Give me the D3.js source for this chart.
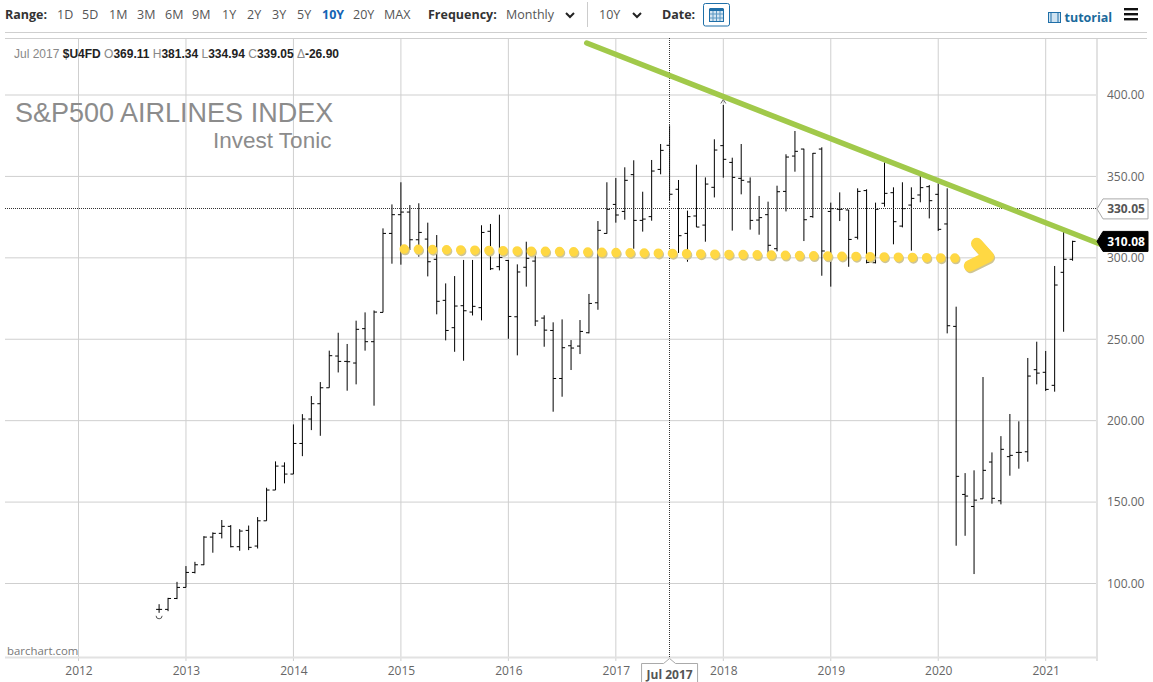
<!DOCTYPE html>
<html>
<head>
<meta charset="utf-8">
<title>S&amp;P500 Airlines Index</title>
<script src="https://cdnjs.cloudflare.com/ajax/libs/d3/7.8.5/d3.min.js"></script>
<style>
   html, body { margin: 0; padding: 0; background: #fff; }
   svg { display: block; }
   .tb { font-family: "Open Sans", sans-serif; font-size: 12.5px; fill: #555; }
   .tb-b { font-family: "Open Sans", sans-serif; font-size: 12.5px; font-weight: 700; fill: #333; }
   .ax text { font-family: "Open Sans", sans-serif; font-size: 12px; fill: #666; }
   .ax path.domain, .ax line { display: none; }
   .info { font-family: "Liberation Sans", sans-serif; font-size: 12px; fill: #888; }
   .info .b { font-weight: 700; fill: #222; }
</style>
</head>
<body>
<svg id="chart" width="1153" height="682"></svg>
<script>
// Monthly bars, Oct 2012 to Apr 2021. Month 0 is Jan 2012.
var barMonths = d3.range(9, 112);

var opens = [
   84.1, 84.1, 90.8,
   97.6, 106.8, 111.5, 128.5, 130.8, 135.1, 122.6, 132.6, 123.0, 138.5, 157.4, 172.1,
   167.2, 186.0, 201.0, 210.4, 220.2, 239.7, 236.4, 235.4, 256.5, 248.5, 266.5, 315.0,
   326.5, 328.1, 311.1, 311.5, 299.1, 273.9, 257.1, 270.6, 266.7, 269.4, 316.3, 294.6,
   298.4, 263.8, 294.2, 298.0, 263.0, 255.4, 225.9, 246.0, 245.8, 254.0, 272.4, 315.0,
   332.8, 328.5, 351.1, 323.0, 325.3, 354.3, 369.11, 342.1, 315.0, 325.7, 320.1, 343.3,
   368.9, 358.6, 348.8, 346.6, 323.2, 326.5, 305.6, 340.8, 362.5, 366.8, 325.3, 366.8,
   328.5, 329.8, 329.4, 312.6, 341.3, 297.0, 333.5, 340.0, 319.5, 332.4, 338.6, 343.7,
   339.0, 320.8, 257.9, 154.7, 147.3, 152.0, 174.6, 150.8, 177.9, 180.5, 180.9, 231.3,
   229.7, 221.7, 291.1, 299.1
];
var highs = [
   87.3, 91.2, 101.0,
   110.7, 113.3, 129.1, 131.4, 139.0, 135.9, 133.4, 135.6, 140.8, 158.8, 175.0, 174.4,
   197.7, 204.0, 215.1, 223.7, 243.0, 254.0, 247.1, 261.4, 266.5, 267.7, 318.1, 332.8,
   346.4, 332.4, 333.5, 321.6, 314.0, 284.3, 288.8, 298.7, 298.7, 320.0, 320.8, 326.5,
   298.7, 296.0, 309.9, 303.2, 264.7, 260.4, 262.2, 249.5, 261.8, 277.8, 322.6, 346.4,
   349.0, 355.6, 359.9, 340.6, 360.1, 369.9, 381.34, 347.8, 329.0, 357.2, 349.4, 372.8,
   393.9, 361.5, 369.9, 349.4, 338.0, 334.5, 344.3, 363.6, 377.9, 367.0, 364.4, 367.9,
   333.9, 340.2, 329.4, 342.7, 342.1, 333.9, 358.6, 343.3, 346.4, 343.3, 350.3, 344.7,
   345.7, 342.7, 270.0, 167.8, 169.5, 226.8, 180.5, 190.5, 204.1, 199.6, 238.5, 248.5,
   242.8, 295.0, 316.1, 310.5
];
var lows = [
   82.0, 83.0, 90.4,
   97.6, 106.2, 111.3, 118.9, 127.7, 122.2, 120.1, 120.5, 121.5, 138.5, 157.4, 161.5,
   167.2, 178.2, 194.2, 190.7, 220.2, 229.6, 218.4, 222.3, 243.0, 209.2, 266.5, 296.4,
   295.8, 304.8, 300.7, 288.6, 265.3, 249.3, 242.3, 236.8, 264.6, 261.6, 292.5, 292.3,
   250.3, 240.1, 282.3, 258.1, 245.4, 205.5, 214.7, 231.1, 240.9, 253.6, 268.1, 314.8,
   321.6, 323.4, 305.6, 316.1, 322.8, 351.3, 334.94, 303.0, 297.6, 318.9, 309.9, 337.1,
   349.2, 316.7, 339.0, 317.3, 314.2, 303.1, 304.0, 328.5, 352.9, 310.3, 324.6, 289.0,
   282.3, 322.6, 294.5, 311.3, 296.6, 296.6, 331.4, 308.3, 318.7, 304.4, 334.1, 324.2,
   316.5, 253.6, 123.2, 129.3, 105.8, 152.0, 149.0, 148.6, 166.2, 170.5, 174.8, 222.3,
   218.2, 217.8, 254.6, 298.2
];
var closes = [
   84.1, 90.8, 97.6,
   106.8, 111.5, 128.5, 130.8, 135.1, 122.6, 132.2, 122.2, 138.5, 157.4, 172.1, 167.2,
   186.0, 201.0, 210.4, 220.2, 239.9, 236.4, 236.2, 256.1, 248.5, 266.7, 315.0, 326.5,
   328.1, 311.1, 315.6, 297.6, 273.3, 255.4, 270.4, 267.5, 270.2, 315.6, 293.3, 300.3,
   264.0, 291.3, 299.7, 261.2, 255.6, 225.9, 244.8, 244.6, 254.8, 272.0, 316.9, 329.8,
   326.3, 347.6, 323.0, 323.8, 353.3, 366.0, 339.05, 313.6, 325.3, 318.9, 345.3, 366.2,
   360.5, 349.4, 347.6, 323.0, 324.7, 307.7, 340.6, 361.9, 365.4, 323.4, 364.2, 304.2,
   330.2, 329.8, 311.3, 340.8, 297.2, 329.8, 339.6, 322.2, 330.2, 336.5, 343.1, 335.1,
   317.5, 258.3, 165.8, 153.7, 151.2, 169.5, 152.3, 182.4, 178.7, 180.5, 227.4, 229.2,
   219.2, 283.3, 299.1, 310.08
];

var yearLabels = ['2012', '2013', '2014', '2015', '2016', '2017', '2018', '2019', '2020', '2021'];
var yearMonths = [0, 12, 24, 36, 48, 60, 72, 84, 96, 108];
var priceTicks = [100, 150, 200, 250, 300, 350, 400];

var rangeLabels = ['1D', '5D', '1M', '3M', '6M', '9M', '1Y', '2Y', '3Y', '5Y', '10Y', '20Y', 'MAX'];
var rangeLefts = [57, 82, 109, 137, 165, 192, 222, 247, 272, 297, 322, 353, 384];

// Hand drawn annotations, as [month, price]
var trendLine = [[56.75, 431.9], [114.2, 308.2]];
var dottedLine = [[36.37, 305.4], [99.28, 299.7]];
var arrowHead = [[100.3, 308.8], [101.6, 300.8], [99.5, 295.0]];

var crossMonth = 66;
var crossPrice = 330.05;
var lastPrice = 310.08;

var x = d3.scaleLinear().domain([0, 108]).range([78.5, 1045.7]);
var y = d3.scaleLinear().domain([100, 400]).range([583.5, 95]);

var plotLeft = 5, plotRight = 1097, plotTop = 38.5, plotBottom = 657.5;
var gridColor = '#cfcfcf';

var svg = d3.select('#chart');
var line = d3.line().x(function(d) { return x(d[0]); }).y(function(d) { return y(d[1]); });

// Grid
var grid = svg.append('g').attr('stroke', gridColor).attr('stroke-width', 1);
grid.selectAll('line.v').data(yearMonths).enter().append('line').attr('class', 'v')
   .attr('x1', function(d) { return x(d); }).attr('x2', function(d) { return x(d); })
   .attr('y1', plotTop).attr('y2', 661);
grid.selectAll('line.h').data(priceTicks).enter().append('line').attr('class', 'h')
   .attr('x1', plotLeft).attr('x2', plotRight)
   .attr('y1', function(d) { return y(d); }).attr('y2', function(d) { return y(d); });
grid.append('line').attr('x1', plotRight).attr('x2', plotRight).attr('y1', plotTop).attr('y2', 661)
   .attr('stroke', '#e2e2e2').attr('stroke-width', 2);
grid.append('line').attr('x1', plotLeft).attr('x2', plotRight).attr('y1', plotBottom).attr('y2', plotBottom)
   .attr('stroke', '#e2e2e2').attr('stroke-width', 2);
grid.append('line').attr('x1', plotLeft).attr('x2', 1147).attr('y1', plotTop).attr('y2', plotTop);
grid.append('line').attr('x1', plotLeft).attr('x2', 1147).attr('y1', 32.5).attr('y2', 32.5);

// Axes
svg.append('g').attr('class', 'ax')
   .attr('transform', 'translate(0,' + plotBottom + ')')
   .call(d3.axisBottom(x).tickValues(yearMonths).tickSize(0).tickPadding(9)
      .tickFormat(function(d, i) { return yearLabels[i]; }));
svg.append('g').attr('class', 'ax')
   .attr('transform', 'translate(' + plotRight + ',0)')
   .call(d3.axisRight(y).tickValues(priceTicks).tickSize(0).tickPadding(10)
      .tickFormat(d3.format('.2f')));

// OHLC bars
var bars = svg.append('g').attr('stroke', '#000').attr('stroke-width', 1);
bars.selectAll('g').data(barMonths).enter().append('g').each(function(m, i) {
   var g = d3.select(this);
   var bx = x(m);
   g.append('line').attr('x1', bx).attr('x2', bx).attr('y1', y(highs[i])).attr('y2', y(lows[i]));
   g.append('line').attr('x1', bx - 3).attr('x2', bx).attr('y1', y(opens[i])).attr('y2', y(opens[i]));
   g.append('line').attr('x1', bx).attr('x2', bx + 3).attr('y1', y(closes[i])).attr('y2', y(closes[i]));
});

// Small chart glyphs, under the first bar and on top of the Jan 2018 bar
svg.append('path')
   .attr('d', 'M' + (x(9) - 3) + ',' + (y(82) + 3) + 'a3,3 0 0 0 6,0')
   .attr('fill', 'none').attr('stroke', '#555').attr('stroke-width', 1);
svg.append('path')
   .attr('d', 'M' + (x(72) - 2.5) + ',' + (y(396) + 2) + 'l2.5,-4l2.5,4')
   .attr('fill', 'none').attr('stroke', '#666').attr('stroke-width', 1);

// Crosshair, kept on whole pixels so the dots stay crisp
var crossX = Math.floor(x(crossMonth)) + 0.5;
var crossY = Math.floor(y(crossPrice)) + 0.5;
var cross = svg.append('g').attr('stroke', '#333').attr('stroke-width', 1).attr('stroke-dasharray', '1,1');
cross.append('line').attr('x1', crossX).attr('x2', crossX).attr('y1', 38).attr('y2', 658);
cross.append('line').attr('x1', plotLeft).attr('x2', plotRight).attr('y1', crossY).attr('y2', crossY);

// Yellow dotted line and arrow, shadow first
[{dx: 1, dy: 1.5, color: '#cfc594'}, {dx: 0, dy: 0, color: '#ffd843'}].forEach(function(s) {
   var g = svg.append('g').attr('transform', 'translate(' + s.dx + ',' + s.dy + ')')
      .attr('fill', 'none').attr('stroke', s.color).attr('stroke-linecap', 'round').attr('stroke-linejoin', 'round');
   g.append('path').attr('d', line(dottedLine)).attr('stroke-width', 9.5).attr('stroke-dasharray', '0,14.12');
   g.append('path').attr('d', line(arrowHead)).attr('stroke-width', 11.5);
});

// Green trend line
svg.append('path').attr('d', line(trendLine))
   .attr('fill', 'none').attr('stroke', '#a1c94a').attr('stroke-width', 5.5).attr('stroke-linecap', 'round');

// Price flags on the axis
function priceFlag(price, fill, stroke, textFill) {
   var py = y(price);
   var g = svg.append('g');
   g.append('path')
      .attr('d', 'M1097,' + py + 'L1103,' + (py - 10) + 'H1148V' + (py + 10) + 'H1103Z')
      .attr('fill', fill).attr('stroke', stroke);
   g.append('text').attr('x', 1126).attr('y', py + 4.5).attr('text-anchor', 'middle')
      .attr('font-family', '"Open Sans", sans-serif').attr('font-size', 12).attr('font-weight', 700)
      .attr('fill', textFill).text(d3.format('.2f')(price));
}
priceFlag(crossPrice, '#fff', '#aaa', '#555');
priceFlag(lastPrice, '#000', '#000', '#fff');

// Crosshair date flag, runs off the bottom of the page
var fx = x(crossMonth);
svg.append('path')
   .attr('d', 'M' + (fx - 28) + ',684V663.5H' + (fx - 6) + 'L' + fx + ',658.5L' + (fx + 6) + ',663.5H' + (fx + 28) + 'V684')
   .attr('fill', '#fff').attr('stroke', '#aaa');
svg.append('text').attr('x', fx).attr('y', 679).attr('text-anchor', 'middle')
   .attr('font-family', '"Open Sans", sans-serif').attr('font-size', 12).attr('font-weight', 700)
   .attr('fill', '#555').text('Jul 2017');

// Info line
var info = svg.append('text').attr('class', 'info').attr('x', 14).attr('y', 58);
[['Jul 2017 ', ''], ['$U4FD ', 'b'], ['O', ''], ['369.11 ', 'b'], ['H', ''], ['381.34 ', 'b'],
 ['L', ''], ['334.94 ', 'b'], ['C', ''], ['339.05 ', 'b'], ['\u0394', ''], ['-26.90', 'b']].forEach(function(p) {
   info.append('tspan').attr('class', p[1]).text(p[0]);
});

// Titles
svg.append('text').attr('x', 15).attr('y', 122)
   .attr('font-family', '"Liberation Sans", sans-serif').attr('font-size', 27).attr('fill', '#8c8c8c')
   .text('S&P500 AIRLINES INDEX');
svg.append('text').attr('x', 213).attr('y', 148)
   .attr('font-family', '"Liberation Sans", sans-serif').attr('font-size', 22.5).attr('fill', '#8c8c8c')
   .text('Invest Tonic');
svg.append('text').attr('x', 7).attr('y', 655)
   .attr('font-family', '"Open Sans", sans-serif').attr('font-size', 11.4).attr('fill', '#777')
   .text('barchart.com');

// Toolbar
function toolText(label, left, cls) {
   return svg.append('text').attr('class', cls).attr('x', left).attr('y', 18.5).text(label);
}
function chevron(cx) {
   svg.append('path').attr('d', 'M' + (cx - 4) + ',13L' + cx + ',17L' + (cx + 4) + ',13')
      .attr('fill', 'none').attr('stroke', '#222').attr('stroke-width', 2);
}
toolText('Range:', 5, 'tb-b');
rangeLabels.forEach(function(r, i) {
   var t = toolText(r, rangeLefts[i], 'tb');
   if (r === '10Y') {
      t.style('fill', '#1464b4').style('font-weight', 700);
   }
});
toolText('Frequency:', 428, 'tb-b');
toolText('Monthly', 506, 'tb');
chevron(570);
svg.append('line').attr('x1', 587.5).attr('x2', 587.5).attr('y1', 2).attr('y2', 27).attr('stroke', '#ccc');
toolText('10Y', 599, 'tb');
chevron(637);
toolText('Date:', 662, 'tb-b');

// Calendar button
svg.append('rect').attr('x', 703.5).attr('y', 3.5).attr('width', 26).attr('height', 22.5).attr('rx', 2)
   .attr('fill', '#fff').attr('stroke', '#1f6fa8');
svg.append('rect').attr('x', 709.5).attr('y', 9.5).attr('width', 14).attr('height', 12)
   .attr('fill', '#d5e6f2').attr('stroke', '#1f6fa8');
svg.append('rect').attr('x', 709.5).attr('y', 8).attr('width', 14).attr('height', 3).attr('fill', '#1f6fa8');
[713, 716.5, 720].forEach(function(gx) {
   svg.append('line').attr('x1', gx).attr('x2', gx).attr('y1', 11).attr('y2', 21).attr('stroke', '#5b97c2');
});
[14, 18].forEach(function(gy) {
   svg.append('line').attr('x1', 710).attr('x2', 723).attr('y1', gy).attr('y2', gy).attr('stroke', '#5b97c2');
});

// Tutorial link
svg.append('rect').attr('x', 1048.5).attr('y', 12.5).attr('width', 12).attr('height', 10)
   .attr('fill', '#cfe3f1').attr('stroke', '#1f6fa8').attr('stroke-width', 1);
[1051, 1058].forEach(function(gx) {
   svg.append('line').attr('x1', gx).attr('x2', gx).attr('y1', 12).attr('y2', 23).attr('stroke', '#1f6fa8');
});
svg.append('text').attr('x', 1064.5).attr('y', 22)
   .attr('font-family', '"Open Sans", sans-serif').attr('font-size', 12.5).attr('font-weight', 700)
   .attr('fill', '#1b6a9c').text('tutorial');

// Menu icon
[8, 13, 18].forEach(function(gy) {
   svg.append('rect').attr('x', 1124).attr('y', gy).attr('width', 14).attr('height', 2.4).attr('fill', '#111');
});
</script>
</body>
</html>
